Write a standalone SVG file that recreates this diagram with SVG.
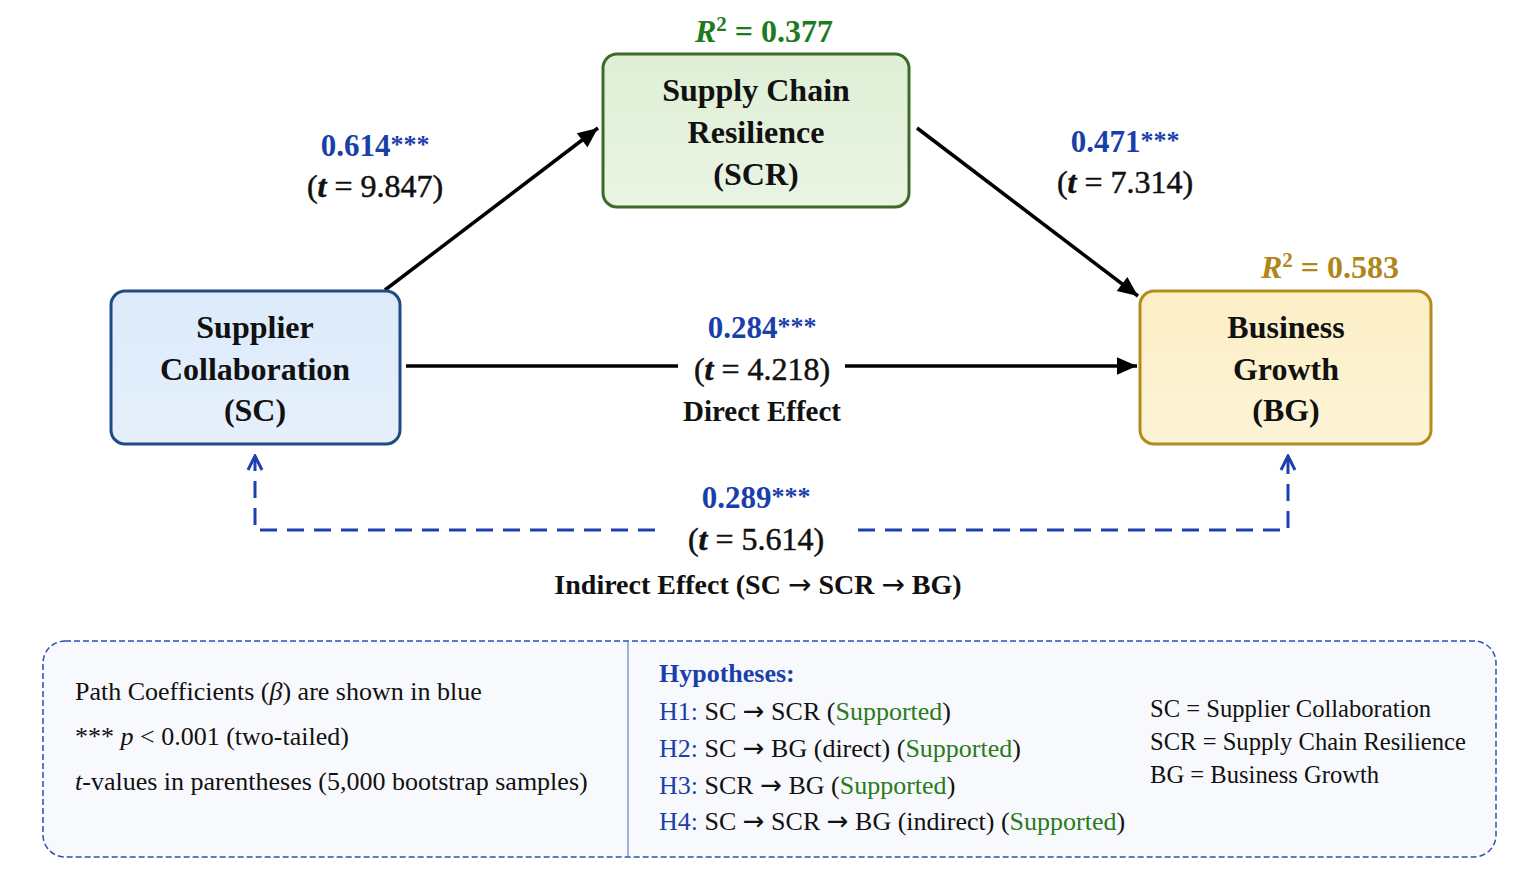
<svg xmlns="http://www.w3.org/2000/svg" width="1536" height="895" viewBox="0 0 1536 895">
<defs>
<linearGradient id="gSC" x1="0" y1="0" x2="0" y2="1"><stop offset="0" stop-color="#dceafb"/><stop offset="1" stop-color="#e6f0fb"/></linearGradient>
<linearGradient id="gSCR" x1="0" y1="0" x2="0" y2="1"><stop offset="0" stop-color="#dfefd6"/><stop offset="1" stop-color="#e9f4e3"/></linearGradient>
<linearGradient id="gBG" x1="0" y1="0" x2="0" y2="1"><stop offset="0" stop-color="#fcefc6"/><stop offset="1" stop-color="#fdf3d6"/></linearGradient>
<marker id="ah" viewBox="0 0 10 10" refX="10" refY="5" markerWidth="8" markerHeight="8" markerUnits="userSpaceOnUse" orient="auto" style="overflow:visible">
<path d="M0,0 L10,5 L0,10 z" fill="#000" transform="scale(2.5,2.2) translate(-6,-2.7)"/>
</marker>
<marker id="ahb" viewBox="0 0 20 20" refX="18" refY="10" markerWidth="20" markerHeight="20" markerUnits="userSpaceOnUse" orient="auto">
<path d="M4,3 L18,10 L4,17" fill="none" stroke="#1e3fae" stroke-width="3"/>
</marker>
<style>
.node{stroke-width:3}
.nt{font-family:"Liberation Serif","Times New Roman",serif;font-weight:bold;font-size:32px;fill:#111;text-anchor:middle}
.coef{font-family:"Liberation Serif","Times New Roman",serif;font-weight:bold;font-size:31px;fill:#1a3faa;text-anchor:middle}
.star{font-size:26px}
.tv{font-family:"Liberation Serif","Times New Roman",serif;font-size:32px;fill:#111;text-anchor:middle;stroke:#111;stroke-width:0.5}
.lab{font-family:"Liberation Serif","Times New Roman",serif;font-weight:bold;font-size:28px;fill:#111;text-anchor:middle}
.lab29{font-size:29px}
.r2{font-family:"Liberation Serif","Times New Roman",serif;font-weight:bold;font-size:32px;text-anchor:middle}
.leg{font-family:"Liberation Serif","Times New Roman",serif;font-size:26px;fill:#111}
.abbr{font-size:24.6px}
.arr{font-family:"DejaVu Sans",sans-serif;font-size:1em;font-weight:normal}
.blue{fill:#1a3faa}
.green{fill:#2a7a1e}
.conn{stroke:#000;stroke-width:3.5;fill:none}
.dash{stroke:#1e3fae;stroke-width:3;fill:none;stroke-dasharray:17 10}
</style>
</defs>
<rect width="1536" height="895" fill="#ffffff"/>

<g id="connectors">
<line class="conn" x1="385" y1="290" x2="598" y2="128" marker-end="url(#ah)"/>
<line class="conn" x1="917" y1="128" x2="1138" y2="296" marker-end="url(#ah)"/>
<line class="conn" x1="406" y1="366" x2="678" y2="366"/>
<line class="conn" x1="845" y1="366" x2="1137" y2="366" marker-end="url(#ah)"/>
<polyline class="dash" points="655,530 255,530 255,456" marker-end="url(#ahb)"/>
<polyline class="dash" points="858,530 1288,530 1288,456" marker-end="url(#ahb)"/>
</g>

<g id="node-sc">
<rect class="node" x="111" y="291" width="289" height="153" rx="14" fill="url(#gSC)" stroke="#1f4a86"/>
<text class="nt" x="255" y="338">Supplier</text>
<text class="nt" x="255" y="380">Collaboration</text>
<text class="nt" x="255" y="421">(SC)</text>
</g>

<g id="node-scr">
<rect class="node" x="603" y="54" width="306" height="153" rx="14" fill="url(#gSCR)" stroke="#3d6b28"/>
<text class="nt" x="756" y="101">Supply Chain</text>
<text class="nt" x="756" y="143">Resilience</text>
<text class="nt" x="756" y="185">(SCR)</text>
</g>

<g id="node-bg">
<rect class="node" x="1140" y="291" width="291" height="153" rx="14" fill="url(#gBG)" stroke="#b58b1f"/>
<text class="nt" x="1286" y="338">Business</text>
<text class="nt" x="1286" y="380">Growth</text>
<text class="nt" x="1286" y="421">(BG)</text>
</g>

<g id="labels">
<text class="r2" x="764" y="42" fill="#1e7a1e"><tspan font-style="italic">R</tspan><tspan font-size="21" dy="-11">2</tspan><tspan dy="11"> = 0.377</tspan></text>
<text class="r2" x="1330" y="278" fill="#b0861a"><tspan font-style="italic">R</tspan><tspan font-size="21" dy="-11">2</tspan><tspan dy="11"> = 0.583</tspan></text>

<text class="coef" x="375" y="156">0.614<tspan class="star" dy="-3">***</tspan></text>
<text class="tv" x="375" y="197">(<tspan font-style="italic" font-weight="bold">t</tspan> = 9.847)</text>

<text class="coef" x="1125" y="152">0.471<tspan class="star" dy="-3">***</tspan></text>
<text class="tv" x="1125" y="193">(<tspan font-style="italic" font-weight="bold">t</tspan> = 7.314)</text>

<text class="coef" x="762" y="338">0.284<tspan class="star" dy="-3">***</tspan></text>
<text class="tv" x="762" y="380">(<tspan font-style="italic" font-weight="bold">t</tspan> = 4.218)</text>
<text class="lab lab29" x="762" y="421">Direct Effect</text>

<text class="coef" x="756" y="508">0.289<tspan class="star" dy="-3">***</tspan></text>
<text class="tv" x="756" y="550">(<tspan font-style="italic" font-weight="bold">t</tspan> = 5.614)</text>
<text class="lab" x="758" y="594">Indirect Effect (SC <tspan class="arr">→</tspan> SCR <tspan class="arr">→</tspan> BG)</text>
</g>

<g id="legend">
<rect x="43" y="641" width="1453" height="216" rx="22" fill="#f8f9fc" stroke="#2d4fb0" stroke-width="1.5" stroke-dasharray="6 3"/>
<line x1="628" y1="642" x2="628" y2="856" stroke="#7a98d6" stroke-width="1.5"/>
<text class="leg" x="75" y="700">Path Coefficients (<tspan font-style="italic">β</tspan>) are shown in blue</text>
<text class="leg" x="75" y="745">*** <tspan font-style="italic">p</tspan> &lt; 0.001 (two-tailed)</text>
<text class="leg" x="75" y="790"><tspan font-style="italic">t</tspan>-values in parentheses (5,000 bootstrap samples)</text>

<text class="leg blue" x="659" y="682" font-weight="bold">Hypotheses:</text>
<text class="leg" x="659" y="720"><tspan class="blue">H1:</tspan> SC <tspan class="arr">→</tspan> SCR (<tspan class="green">Supported</tspan>)</text>
<text class="leg" x="659" y="757"><tspan class="blue">H2:</tspan> SC <tspan class="arr">→</tspan> BG (direct) (<tspan class="green">Supported</tspan>)</text>
<text class="leg" x="659" y="794"><tspan class="blue">H3:</tspan> SCR <tspan class="arr">→</tspan> BG (<tspan class="green">Supported</tspan>)</text>
<text class="leg" x="659" y="830"><tspan class="blue">H4:</tspan> SC <tspan class="arr">→</tspan> SCR <tspan class="arr">→</tspan> BG (indirect) (<tspan class="green">Supported</tspan>)</text>

<text class="leg abbr" x="1150" y="717">SC = Supplier Collaboration</text>
<text class="leg abbr" x="1150" y="750">SCR = Supply Chain Resilience</text>
<text class="leg abbr" x="1150" y="783">BG = Business Growth</text>
</g>
</svg>
